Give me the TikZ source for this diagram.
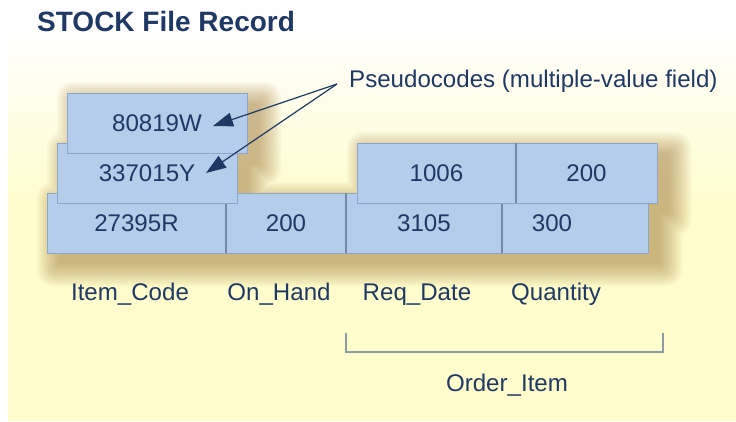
\documentclass[tikz,border=0pt]{standalone}
\usepackage{fontspec}
\setmainfont{Liberation Sans}
\usetikzlibrary{arrows.meta}
\definecolor{navy}{HTML}{1F3864}
\definecolor{boxfill}{HTML}{B4CDEA}
\definecolor{boxline}{HTML}{90A6C6}
\definecolor{divc}{HTML}{7489A9}
\definecolor{brk}{HTML}{8C9AA8}
\definecolor{bgyellow}{HTML}{FFFDCC}
\definecolor{shadowc}{HTML}{9A7030}
\tikzset{
  txt/.style={font=\fontsize{24.1}{28}\selectfont, text=navy, inner sep=0pt},
  cell/.style={txt, draw=boxline, line width=0.8pt, fill=boxfill, minimum height=60pt, outer sep=0pt},
  divider/.style={draw=divc, line width=2pt},
  arr/.style={draw=navy, line width=1.2pt, -{Triangle[length=20pt,width=14pt]}},
  bracket/.style={draw=brk, line width=1.6pt}
}
\begin{document}
\begin{tikzpicture}[x=1pt,y=-1pt]
\useasboundingbox (0,0) rectangle (736,421);
\fill[white] (0,0) rectangle (736,421);
% background
\fill[bgyellow] (8,25) rectangle (736,421);
\shade[top color=white, bottom color=bgyellow] (8,25) rectangle (736,210);
% soft shadow
\foreach \k in {0,...,11} {
  \fill[shadowc, opacity=0.05, rounded corners=\k*1.5pt]
    ({59-\k*2},{204-\k*2}) rectangle ({660+\k*2},{264+\k*2})
    ({69-\k*2},{154-\k*2}) rectangle ({249+\k*2},{214+\k*2})
    ({79-\k*2},{104-\k*2}) rectangle ({259+\k*2},{164+\k*2})
    ({369-\k*2},{154-\k*2}) rectangle ({669+\k*2},{214+\k*2});
}
% title
\node[txt, font=\bfseries\fontsize{28}{32}\selectfont, anchor=base west] (title) at (37,31) {STOCK File Record};
% bottom row
\node[cell, minimum width=179pt] (ic) at (136.5,223) {27395R};
\node[cell, minimum width=120pt] (oh) at (286,223) {200};
\node[cell, minimum width=156pt] (rd) at (424,223) {3105};
\node[cell, minimum width=146pt] (qt) at (575,223) {\hspace*{-46pt}300};
\draw[divider] (ic.north east) -- (ic.south east);
\draw[divider] (oh.north east) -- (oh.south east);
\draw[divider] (rd.north east) -- (rd.south east);
% stacked values
\node[cell, minimum width=180pt] (ic2) at (147,173) {337015Y};
\node[cell, minimum width=180pt] (ic3) at (157,123) {80819W};
% order item second occurrence
\node[cell, minimum width=159pt] (rd2) at (436.5,173) {1006};
\node[cell, minimum width=141pt] (qt2) at (586.5,173) {200};
\draw[divider] (rd2.north east) -- (rd2.south east);
% field names
\node[txt, anchor=base] (lic) at (130,300) {Item\_Code};
\node[txt, anchor=base] (loh) at (279,300) {On\_Hand};
\node[txt, anchor=base] (lrd) at (417,300) {Req\_Date};
\node[txt, anchor=base] (lqt) at (556,300) {Quantity};
% order item bracket
\coordinate (b1) at (346,333);
\coordinate (b2) at (663,333);
\draw[bracket] (b1) -- ++(0,19) -| (b2);
\node[txt, anchor=base] (loi) at (507,391) {Order\_Item};
% pseudocodes
\node[txt, anchor=base west] (pc) at (349,87) {Pseudocodes (multiple-value field)};
\coordinate (src) at (337,84);
\coordinate (tip1) at (213,126);
\coordinate (tip2) at (206,173);
\draw[arr] (src) -- (tip1);
\draw[arr] (src) -- (tip2);
\end{tikzpicture}
\end{document}
